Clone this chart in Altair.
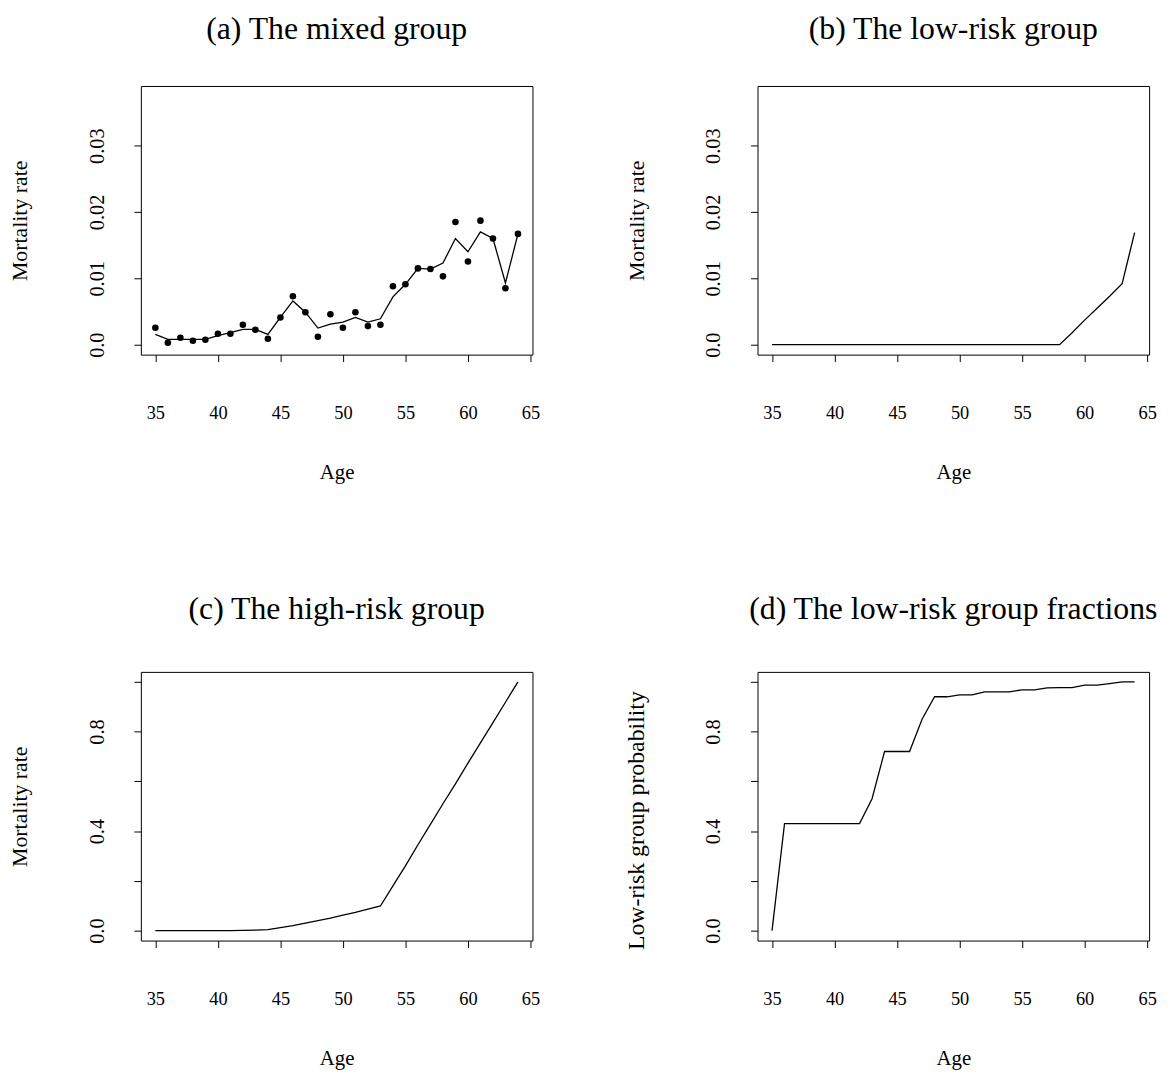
import altair as alt
import pandas as pd

ages = [35, 36, 37, 38, 39, 40, 41, 42, 43, 44, 45, 46, 47, 48, 49,
        50, 51, 52, 53, 54, 55, 56, 57, 58, 59, 60, 61, 62, 63, 64]

mixed_observed = [0.00254, 0.0003, 0.00105, 0.0006, 0.00075, 0.00164, 0.00164, 0.0030,
                  0.00224, 0.0009, 0.0041, 0.0073, 0.0049, 0.0012, 0.0046, 0.00254,
                  0.0049, 0.0028, 0.0030, 0.0088, 0.0091, 0.0115, 0.0114, 0.0103,
                  0.0185, 0.01255, 0.0187, 0.0160, 0.0085, 0.0167]

mixed_fitted = [0.00154, 0.0008, 0.0008, 0.0008, 0.0008, 0.00135, 0.0018, 0.0023,
                0.0023, 0.00154, 0.0041, 0.0066, 0.0049, 0.0025, 0.0031, 0.0034,
                0.0041, 0.0034, 0.0039, 0.0072, 0.0091, 0.0115, 0.0114, 0.0123,
                0.0160, 0.0140, 0.0170, 0.0160, 0.0093, 0.0167]

low_risk_rate = [0.0, 0.0, 0.0, 0.0, 0.0, 0.0, 0.0, 0.0, 0.0, 0.0, 0.0, 0.0, 0.0, 0.0, 0.0,
                 0.0, 0.0, 0.0, 0.0, 0.0, 0.0, 0.0, 0.0, 0.0, 0.0018, 0.0037, 0.0055,
                 0.0073, 0.0092, 0.0169]

high_risk_rate = [0.0, 0.0, 0.0, 0.0, 0.0, 0.0, 0.0, 0.001, 0.002, 0.004, 0.012, 0.020,
                  0.030, 0.040, 0.050, 0.062, 0.073, 0.086, 0.099, 0.180, 0.260, 0.345,
                  0.427, 0.510, 0.590, 0.673, 0.755, 0.836, 0.918, 1.0]

low_risk_fraction = [0.0, 0.43, 0.43, 0.43, 0.43, 0.43, 0.43, 0.43, 0.53, 0.72, 0.72, 0.72,
                     0.85, 0.94, 0.94, 0.948, 0.948, 0.96, 0.96, 0.96, 0.968, 0.968, 0.976,
                     0.977, 0.977, 0.987, 0.987, 0.993, 1.0, 1.0]

x_ticks = [35, 40, 45, 50, 55, 60, 65]
rate_ticks = [0.0, 0.01, 0.02, 0.03]
prob_ticks = [0.0, 0.2, 0.4, 0.6, 0.8, 1.0]

df = pd.DataFrame({
    "age": ages,
    "observed": mixed_observed,
    "fitted": mixed_fitted,
    "low": low_risk_rate,
    "high": high_risk_rate,
    "frac": low_risk_fraction,
})

FONT = "Liberation Serif"
W, H = 395, 271

x_enc = alt.X(
    "age:Q",
    scale=alt.Scale(domain=[33.84, 65.16], nice=False, zero=False),
    axis=alt.Axis(values=x_ticks, title="Age", labelPadding=42, labelFontSize=18.5,
                  labelBaseline="top", titleY=119, titleBaseline="middle",
                  titleFontSize=21),
)

def y_enc(col, domain, ticks, title, expr, tsize, ty=H / 2):
    return alt.Y(
        f"{col}:Q",
        scale=alt.Scale(domain=domain, nice=False, zero=False),
        axis=alt.Axis(values=ticks, title=title, labelAngle=270, labelAlign="center",
                      labelBaseline="middle", labelPadding=37, labelExpr=expr,
                      labelFontSize=20.5,
                      titleAngle=270, titleX=-122, titleY=ty, titleAlign="center",
                      titleBaseline="middle", titleFontSize=tsize),
    )

rate_expr = "datum.value == 0 ? '0.0' : format(datum.value, '.2f')"
prob_expr = "(round(datum.value * 10) % 4 == 0) ? format(datum.value, '.1f') : ''"
rate_dom = [-0.0015, 0.039]
prob_dom = [-0.04, 1.04]

base = alt.Chart(df)

pa_line = base.mark_line(color="black", strokeWidth=1.3).encode(
    x=x_enc, y=y_enc("fitted", rate_dom, rate_ticks, "Mortality rate", rate_expr, 22))
pa_pts = base.mark_circle(color="black", opacity=1, size=44).encode(
    x=x_enc, y=y_enc("observed", rate_dom, rate_ticks, "Mortality rate", rate_expr, 22))
pa = alt.layer(pa_line, pa_pts).properties(width=W, height=H, title="(a) The mixed group")

pb = base.mark_line(color="black", strokeWidth=1.3).encode(
    x=x_enc, y=y_enc("low", rate_dom, rate_ticks, "Mortality rate", rate_expr, 22)
).properties(width=W, height=H, title="(b) The low-risk group")

pc = base.mark_line(color="black", strokeWidth=1.3).encode(
    x=x_enc, y=y_enc("high", prob_dom, prob_ticks, "Mortality rate", prob_expr, 22)
).properties(width=W, height=H,
             title=alt.TitleParams("(c) The high-risk group", offset=46))

pd_ = base.mark_line(color="black", strokeWidth=1.3).encode(
    x=x_enc, y=y_enc("frac", prob_dom, prob_ticks, "Low-risk group probability",
                     prob_expr, 24, H / 2 + 14)
).properties(width=W, height=H,
             title=alt.TitleParams("(d) The low-risk group fractions", offset=46))

chart = alt.concat(pa, pb, pc, pd_, columns=2, bounds="flush",
                   spacing={"row": 320, "column": 227}).properties(
    padding={"left": 0, "top": 0, "right": 5, "bottom": 5},
    background="white",
).configure_view(
    stroke="black", strokeWidth=1
).configure_axis(
    domain=False, grid=False, tickColor="black", tickSize=7, tickWidth=1,
    labelFont=FONT, labelColor="black",
    titleFont=FONT, titleFontWeight="normal", titleColor="black",
    labelOverlap=False, labelFlush=False,
).configure_title(
    font=FONT, fontSize=32, fontWeight="normal", color="black", anchor="middle",
    baseline="alphabetic", offset=40,
)

chart.save("out.html", embed_options={"renderer": "svg", "actions": False})
